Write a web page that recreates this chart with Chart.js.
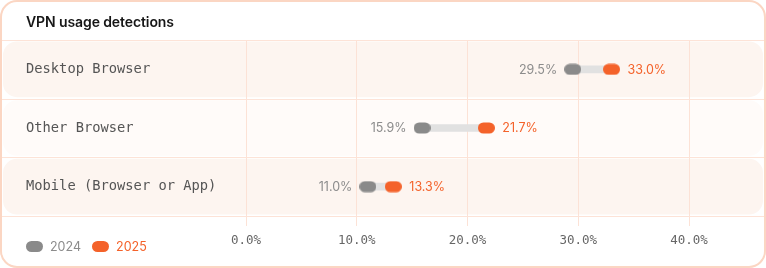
<!DOCTYPE html>
<html>
<head>
<meta charset="utf-8">
<script src="https://cdn.jsdelivr.net/npm/chart.js@4"></script>
<style>
  html, body { margin: 0; padding: 0; background: #ffffff; }
  #wrap { position: relative; width: 766px; height: 268px; overflow: hidden; }
  #chart { position: absolute; left: 0; top: 0; }
  #card { position: absolute; left: 0; top: 0; width: 766px; height: 268px; box-sizing: border-box;
          border: 2px solid #fbd6c3; border-radius: 17px; pointer-events: none; z-index: 2; }
  #title { position: absolute; left: 26px; top: 12px; font: 600 14px Inter, "Noto Sans", sans-serif;
           color: #161616; line-height: 20px; z-index: 3; letter-spacing: -0.1px; }
  #legend { position: absolute; left: 26px; top: 237px; height: 18px; display: flex; align-items: center;
            font: 400 12.5px Inter, "Noto Sans", sans-serif; z-index: 3; }
  .pill { display: inline-block; width: 17px; height: 11px; border-radius: 6px; margin-right: 7px; }
  .lt { margin-right: 11px; }
</style>
</head>
<body>
<div id="wrap">
  <canvas id="chart" width="766" height="268"></canvas>
  <div id="card"></div>
  <div id="title">VPN usage detections</div>
  <div id="legend">
    <span class="pill" style="background:#8a8a8a"></span><span class="lt" style="color:#8c8c8c">2024</span>
    <span class="pill" style="background:#f4622a"></span><span class="lt" style="color:#f4622a">2025</span>
  </div>
</div>
<script>
const categories = ['Desktop Browser', 'Other Browser', 'Mobile (Browser or App)'];
const values2024 = [29.5, 15.9, 11.0];
const values2025 = [33.0, 21.7, 13.3];
const xTicks = [0, 10, 20, 30, 40];

const GRAY = '#8a8a8a';
const ORANGE = '#f4622a';

function pill(color) {
  const c = document.createElement('canvas');
  c.width = 17; c.height = 12;
  const g = c.getContext('2d');
  g.fillStyle = color;
  g.beginPath();
  g.roundRect(0, 0.5, 17, 11, 5.5);
  g.fill();
  return c;
}

const rowPlugin = {
  id: 'rows',
  beforeDraw(chart) {
    const ctx = chart.ctx, y = chart.scales.y;
    const band = (y.bottom - y.top) / categories.length;
    ctx.save();
    categories.forEach((c, i) => {
      const top = y.top + i * band;
      ctx.fillStyle = i % 2 === 0 ? '#fdf5f0' : '#fffbf9';
      ctx.beginPath();
      ctx.roundRect(3, top + 1.5, 760, band - 3, 14);
      ctx.fill();
    });
    ctx.restore();
  },
  beforeDatasetsDraw(chart) {
    const ctx = chart.ctx, y = chart.scales.y;
    const band = (y.bottom - y.top) / categories.length;
    ctx.save();
    ctx.strokeStyle = '#fde3d7';
    ctx.lineWidth = 1;
    for (let i = 0; i <= categories.length; i++) {
      const yy = Math.round(y.top + i * band) + 0.5;
      ctx.beginPath();
      ctx.moveTo(2, yy);
      ctx.lineTo(764, yy);
      ctx.stroke();
    }
    ctx.restore();
  },
  afterDatasetsDraw(chart) {
    const ctx = chart.ctx, x = chart.scales.x, y = chart.scales.y;
    ctx.save();
    ctx.font = '400 12.5px Inter, "Noto Sans", sans-serif';
    ctx.textBaseline = 'middle';
    categories.forEach((c, i) => {
      const yy = y.getPixelForValue(i) + 0.5;
      const x1 = x.getPixelForValue(values2024[i]);
      const x2 = x.getPixelForValue(values2025[i]);
      ctx.fillStyle = '#8c8c8c';
      ctx.textAlign = 'right';
      ctx.fillText(values2024[i].toFixed(1) + '%', x1 - 15.5, yy);
      ctx.fillStyle = ORANGE;
      ctx.textAlign = 'left';
      ctx.fillText(values2025[i].toFixed(1) + '%', x2 + 16, yy);
    });
    ctx.restore();
  }
};

new Chart(document.getElementById('chart'), {
  type: 'bar',
  data: {
    labels: categories,
    datasets: [
      {
        type: 'bar',
        label: 'range',
        data: categories.map((c, i) => [values2024[i], values2025[i]]),
        backgroundColor: '#e1e1e1',
        barThickness: 7,
        borderSkipped: false,
        borderWidth: 0,
        order: 10
      },
      {
        type: 'line',
        label: '2024',
        data: values2024,
        showLine: false,
        pointStyle: pill(GRAY),
        order: 2
      },
      {
        type: 'line',
        label: '2025',
        data: values2025,
        showLine: false,
        pointStyle: pill(ORANGE),
        order: 1
      }
    ]
  },
  options: {
    indexAxis: 'y',
    responsive: false,
    animation: false,
    devicePixelRatio: 1,
    layout: { padding: { left: 26, top: 40, right: 10.5, bottom: 22 } },
    plugins: { legend: { display: false }, tooltip: { enabled: false }, title: { display: false } },
    scales: {
      x: {
        type: 'linear',
        min: 0,
        max: 46,
        afterBuildTicks(scale) { scale.ticks = xTicks.map(v => ({ value: v })); },
        afterFit(scale) { scale.height = 30; },
        grid: { color: '#fce2d6', tickLength: 10, drawTicks: true },
        border: { display: false },
        ticks: {
          padding: 7,
          color: '#666666',
          font: { family: '"DejaVu Sans Mono", monospace', size: 12.5 },
          callback: v => Number(v).toFixed(1) + '%'
        }
      },
      y: {
        type: 'category',
        afterFit(scale) { scale.width = 220; },
        grid: { display: false },
        border: { display: false },
        ticks: {
          crossAlign: 'far',
          color: '#555555',
          font: { family: '"DejaVu Sans Mono", monospace', size: 13.75 }
        }
      }
    }
  },
  plugins: [rowPlugin]
});
</script>
</body>
</html>
